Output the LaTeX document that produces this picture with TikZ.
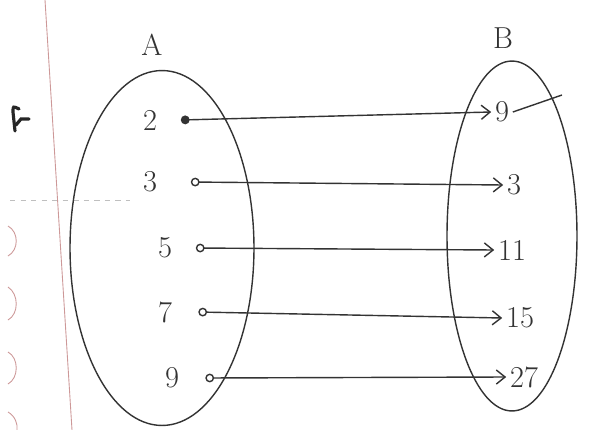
\documentclass[tikz,border=0pt]{standalone}
\usepackage{tikz}
\usetikzlibrary{arrows.meta,positioning,shapes.geometric}

\begin{document}
\begin{tikzpicture}[x=0.02cm, y=-0.02cm,
  setbox/.style={draw=black!80, thick, ellipse, inner sep=0pt},
  elem/.style={font=\LARGE, text=black!80, inner sep=2pt},
  arr/.style={{Circle[open,length=5pt]}-{Straight Barb[length=5pt,width=8pt]}, thick, draw=black!80},
  margin/.style={draw=red!35!gray!60, line width=0.5pt}
]
  \useasboundingbox[fill=white] (0,0) rectangle (596,430);

  % notebook margin
  \draw[margin] (45,0) -- (72,430);
  \draw[margin] (8,226) .. controls (19,232) and (19,250) .. (8,256);
  \draw[margin] (8,287) .. controls (19,294) and (19,314) .. (8,320);
  \draw[margin] (8,352) .. controls (19,358) and (19,378) .. (8,384);
  \draw[margin] (8,412) .. controls (15,416) and (18,424) .. (17,430);
  \draw[black!25, dashed] (10,200) -- (130,200);
  \draw[black!85, line width=1.8pt, line cap=round]
    (15,131) -- (13,112) .. controls (13,106) .. (19,109)
    (16,125) -- (21,119) -- (29,119);

  % the two sets
  \node[setbox, minimum width=3.68cm, minimum height=7.1cm] (setA) at (162,248) {};
  \node[setbox, minimum width=2.6cm, minimum height=7cm] (setB) at (512,236) {};
  \node[elem] (labA) at (152,45) {A};
  \node[elem] (labB) at (503,38) {B};

  % elements of A
  \node[elem] (a2) at (150,120) {2};
  \node[elem] (a3) at (150,182) {3};
  \node[elem] (a5) at (165,248) {5};
  \node[elem] (a7) at (165,312) {7};
  \node[elem] (a9) at (172,378) {9};

  % elements of B
  \node[elem] (b1) at (502,112) {9};
  \node[elem] (b2) at (514,185) {3};
  \node[elem] (b3) at (512,250) {11};
  \node[elem] (b4) at (520,318) {15};
  \node[elem] (b5) at (524,377) {27};
  \coordinate (tick) at (562,95);

  \draw[arr, {Circle[length=5pt]}-{Straight Barb[length=5pt,width=8pt]}] ([xshift=4mm]a2.east) -- (b1.west);
  \draw[black!80, thick] (b1.east) -- (tick);
  \draw[arr] ([xshift=6mm]a3.east) -- (b2.west);
  \draw[arr] ([xshift=4mm]a5.east) -- (b3.west);
  \draw[arr] ([xshift=4.5mm]a7.east) -- (b4.west);
  \draw[arr] ([xshift=4.5mm]a9.east) -- (b5.west);
\end{tikzpicture}
\end{document}
